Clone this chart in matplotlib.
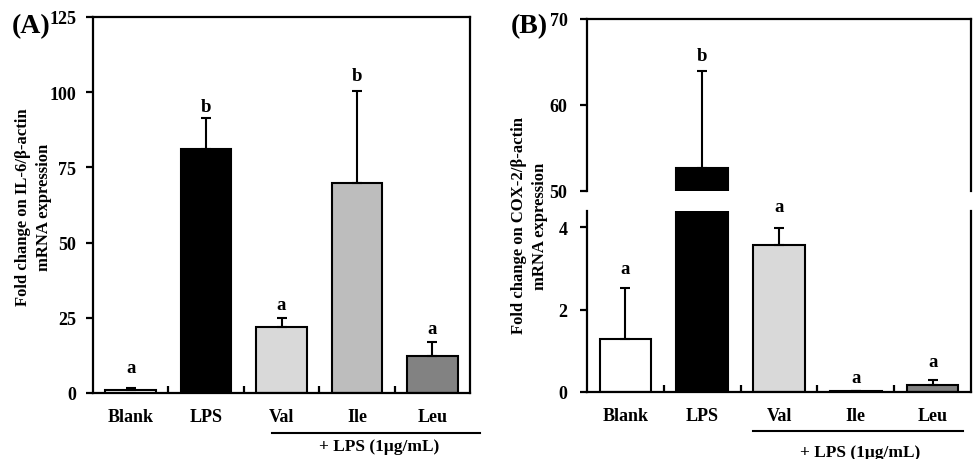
import matplotlib
matplotlib.use("Agg")
import matplotlib.pyplot as plt
import matplotlib.transforms as mtransforms

plt.rcParams['font.family'] = ['Liberation Serif', 'DejaVu Serif']
plt.rcParams['font.weight'] = 'bold'

categories = ["Blank", "LPS", "Val", "Ile", "Leu"]
il6_mean = [1.0, 81.0, 21.8, 69.8, 12.3]
il6_err = [0.5, 10.5, 3.2, 30.6, 4.7]
il6_letters = ["a", "b", "a", "b", "a"]
cox2_mean = [1.3, 52.7, 3.58, 0.03, 0.18]
cox2_err = [1.23, 11.3, 0.40, 0.0, 0.10]
cox2_letters = ["a", "b", "a", "a", "a"]
bar_colors = ["#ffffff", "#000000", "#d9d9d9", "#bdbdbd", "#828282"]
group_label = "+ LPS (1\u03bcg/mL)"

W, H = 973, 460
fig = plt.figure(figsize=(W / 100, H / 100), dpi=100)

def px_axes(l, t, r, b):
    return fig.add_axes([l / W, 1 - b / H, (r - l) / W, (b - t) / H])

LW = 1.6
TICK_FS = 13
CAT_FS = 13
LET_FS = 13.5

def draw_bars(ax, means, errs, letters, offsets):
    x = list(range(len(means)))
    ax.bar(x, means, width=0.67, color=bar_colors, edgecolor="black", linewidth=1.5, zorder=2)
    ax.errorbar(x, means, yerr=[[0] * len(errs), errs], fmt="none", ecolor="black",
                elinewidth=1.5, capsize=3.5, capthick=1.5, zorder=3)
    for xi, m, e, lab, off in zip(x, means, errs, letters, offsets):
        ax.annotate(lab, xy=(xi, m + e), xytext=(0, off * 0.72), textcoords="offset points",
                    ha="center", va="center", fontsize=LET_FS, fontweight="bold")
    ax.set_xlim(-0.5, len(means) - 0.5)

def style_common(ax, pad):
    for s in ax.spines.values():
        s.set_linewidth(LW)
    ax.tick_params(axis="y", direction="out", length=5, width=LW, labelsize=TICK_FS, pad=pad)
    for lab in ax.get_yticklabels():
        lab.set_fontweight("bold")

def style_x(ax):
    ax.set_xticks(range(len(categories)))
    ax.set_xticklabels(categories, fontsize=CAT_FS, fontweight="bold")
    ax.set_xticks([i + 0.5 for i in range(len(categories) - 1)], minor=True)
    ax.tick_params(axis="x", which="major", length=0, pad=11)
    ax.tick_params(axis="x", which="minor", direction="in", length=5, width=LW)

# ---------- Panel A ----------
axA = px_axes(93, 18, 470, 394)
draw_bars(axA, il6_mean, il6_err, il6_letters, [21, 11, 13, 15, 13])
axA.set_ylim(0, 125)
axA.set_yticks([0, 25, 50, 75, 100, 125])
style_common(axA, 7)
style_x(axA)
fig.text(33.5 / W, 1 - 207 / H, "Fold change on IL-6/\u03b2-actin\nmRNA expression",
         rotation=90, ha="center", va="center", fontsize=12, fontweight="bold",
         linespacing=1.45, multialignment="center")
trA = mtransforms.blended_transform_factory(axA.transData, axA.transAxes)
axA.plot([1.87, 4.63], [-0.106, -0.106], color="black", lw=1.5, transform=trA, clip_on=False)
axA.text(3.3, -0.14, group_label, transform=trA, ha="center", va="center",
         fontsize=12.5, fontweight="bold")
fig.text(12 / W, 1 - 27 / H, "(A)", fontsize=20, fontweight="bold", ha="left", va="center")

# ---------- Panel B (broken axis) ----------
axBu = px_axes(587, 20, 971, 192)
axBl = px_axes(587, 212, 971, 393)
draw_bars(axBu, cox2_mean, cox2_err, cox2_letters, [19, 15, 22, 13, 19])
draw_bars(axBl, cox2_mean, cox2_err, cox2_letters, [19, 15, 22, 13, 19])
axBu.set_ylim(50, 70)
axBu.set_yticks([50, 60, 70])
axBl.set_ylim(0, 4.4)
axBl.set_yticks([0, 2, 4])
style_common(axBu, 9)
style_common(axBl, 9)
axBu.spines["bottom"].set_visible(False)
axBu.set_xticks([])
axBl.spines["top"].set_visible(False)
style_x(axBl)
fig.text(529.5 / W, 1 - 226 / H, "Fold change on COX-2/\u03b2-actin\nmRNA expression",
         rotation=90, ha="center", va="center", fontsize=12, fontweight="bold",
         linespacing=1.4, multialignment="center")
trB = mtransforms.blended_transform_factory(axBl.transData, axBl.transAxes)
axBl.plot([1.66, 4.40], [-0.215, -0.215], color="black", lw=1.5, transform=trB, clip_on=False)
axBl.text(3.05, -0.33, group_label, transform=trB, ha="center", va="center",
          fontsize=12.5, fontweight="bold")
fig.text(511 / W, 1 - 27 / H, "(B)", fontsize=20, fontweight="bold", ha="left", va="center")

fig.savefig("out.png", dpi=100)
